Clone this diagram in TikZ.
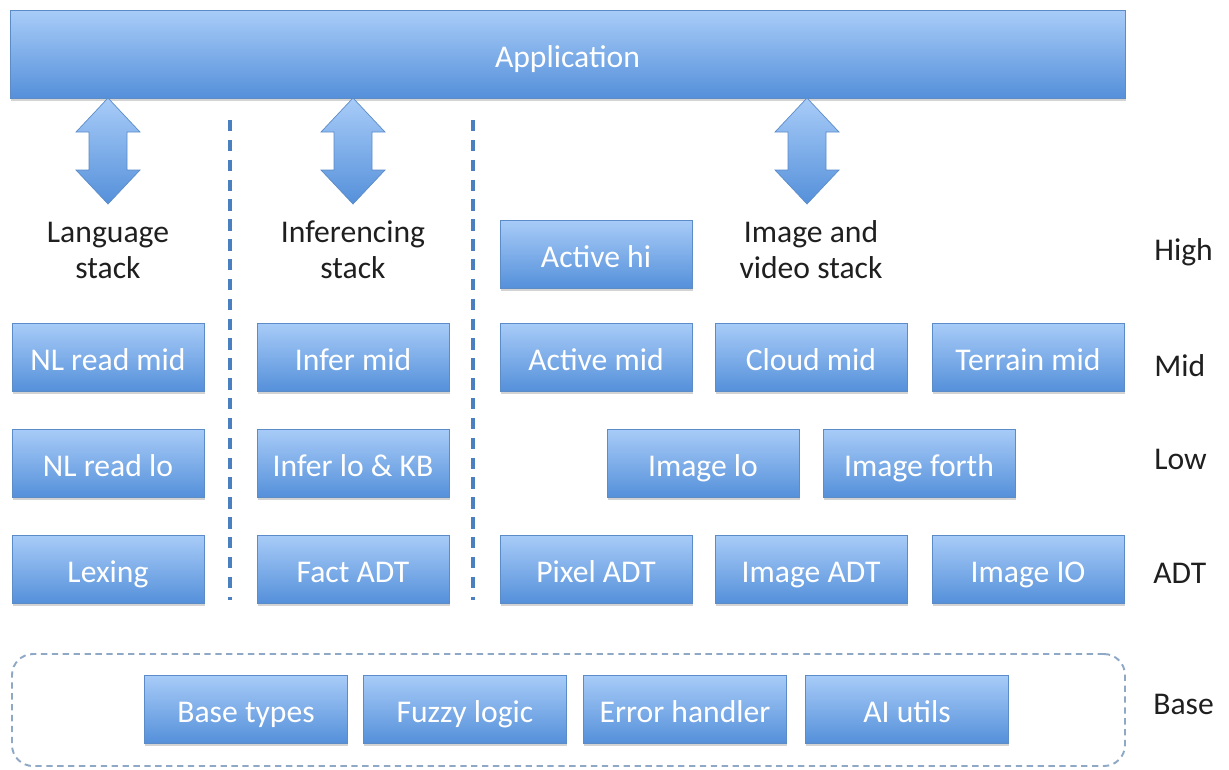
\documentclass[tikz,border=0pt]{standalone}
\usepackage{fontspec}
\setmainfont{Carlito}
\usetikzlibrary{shadows}
\definecolor{boxtop}{HTML}{A8CCF8}
\definecolor{boxbot}{HTML}{5590DA}
\definecolor{boxline}{HTML}{5C8CC8}
\definecolor{sepblue}{HTML}{4A7FC0}
\definecolor{basegray}{HTML}{8FA8C6}
\tikzset{
  layerbox/.style={draw=boxline, line width=0.5pt, top color=boxtop, bottom color=boxbot,
    minimum width=192*0.02cm, minimum height=68*0.02cm, inner sep=0pt,
    text=white, font=\fontsize{18}{21}\selectfont, text height=15pt, text depth=0pt,
    drop shadow={shadow xshift=0.4pt, shadow yshift=-1.6pt, opacity=0.35}},
  basebox/.style={layerbox, minimum width=203*0.02cm},
  stacklabel/.style={align=center, font=\fontsize{18}{20.5}\selectfont, text=black!88},
  levellabel/.style={anchor=west, inner sep=0pt, font=\fontsize{18}{21}\selectfont,
    text=black!88, text height=11.6pt, text depth=0pt},
  twoway/.style={draw=boxline, line width=0.4pt, top color=boxtop, bottom color=boxbot},
  separator/.style={draw=sepblue, line width=1.9pt, dash pattern=on 6.5pt off 4.8pt},
}
\begin{document}
\begin{tikzpicture}[x=0.02cm, y=-0.02cm]
\useasboundingbox (0,0) rectangle (1229,769);

% top layer
\node[layerbox, minimum width=1115*0.02cm, minimum height=88*0.02cm] (app) at (567.5,54) {Application};

% double-headed arrows between the application and each stack
\foreach \ax/\nm in {108/arrL, 353/arrI, 807/arrV} {
  \path[twoway] (\ax,98) -- (\ax+32,132) -- (\ax+19,132) -- (\ax+19,170) -- (\ax+32,170)
    -- (\ax,204) -- (\ax-32,170) -- (\ax-19,170) -- (\ax-19,132) -- (\ax-32,132) -- cycle;
  \coordinate (\nm) at (\ax,151);
}

% stack separators
\coordinate (s1t) at (230,120); \coordinate (s1b) at (230,600);
\coordinate (s2t) at (473,120); \coordinate (s2b) at (473,600);
\draw[separator] (s1t) -- (s1b);
\draw[separator] (s2t) -- (s2b);

% stack titles
\node[stacklabel] (langlbl) at (108,250) {Language\\stack};
\node[stacklabel] (inflbl) at (353,250) {Inferencing\\stack};
\node[stacklabel] (imglbl) at (811,250) {Image and\\video stack};

% high
\node[layerbox] (acthi) at (596,254) {Active hi};

% mid
\node[layerbox] (nlmid) at (108,357) {NL read mid};
\node[layerbox] (infmid) at (353,357) {Infer mid};
\node[layerbox] (actmid) at (596,357) {Active mid};
\node[layerbox] (cldmid) at (811,357) {Cloud mid};
\node[layerbox] (termid) at (1028,357) {Terrain mid};

% low
\node[layerbox] (nllo) at (108,463) {NL read lo};
\node[layerbox] (inflo) at (353,463) {Infer lo \& KB};
\node[layerbox] (imglo) at (703,463) {Image lo};
\node[layerbox] (imgfo) at (919,463) {Image forth};

% ADT
\node[layerbox] (lex) at (108,569) {Lexing};
\node[layerbox] (fact) at (353,569) {Fact ADT};
\node[layerbox] (pix) at (596,569) {Pixel ADT};
\node[layerbox] (imadt) at (811,569) {Image ADT};
\node[layerbox] (imio) at (1028,569) {Image IO};

% base
\node[draw=basegray, line width=1.1pt, dash pattern=on 3.6pt off 2.6pt, rounded corners=12pt,
  minimum width=1113*0.02cm, minimum height=112*0.02cm, inner sep=0pt] (basegrp) at (568.5,710) {};
\node[basebox] (btypes) at (246,709) {Base types};
\node[basebox] (fuzzy) at (465,709) {Fuzzy logic};
\node[basebox] (err) at (685,709) {Error handler};
\node[basebox] (ai) at (907,709) {AI utils};

% level names
\node[levellabel] (lhigh) at (1154,250.5) {High};
\node[levellabel] (lmid) at (1154,366) {Mid};
\node[levellabel] (llow) at (1154,459) {Low};
\node[levellabel] (ladt) at (1153,573) {ADT};
\node[levellabel] (lbase) at (1153,704.5) {Base};
\end{tikzpicture}
\end{document}
